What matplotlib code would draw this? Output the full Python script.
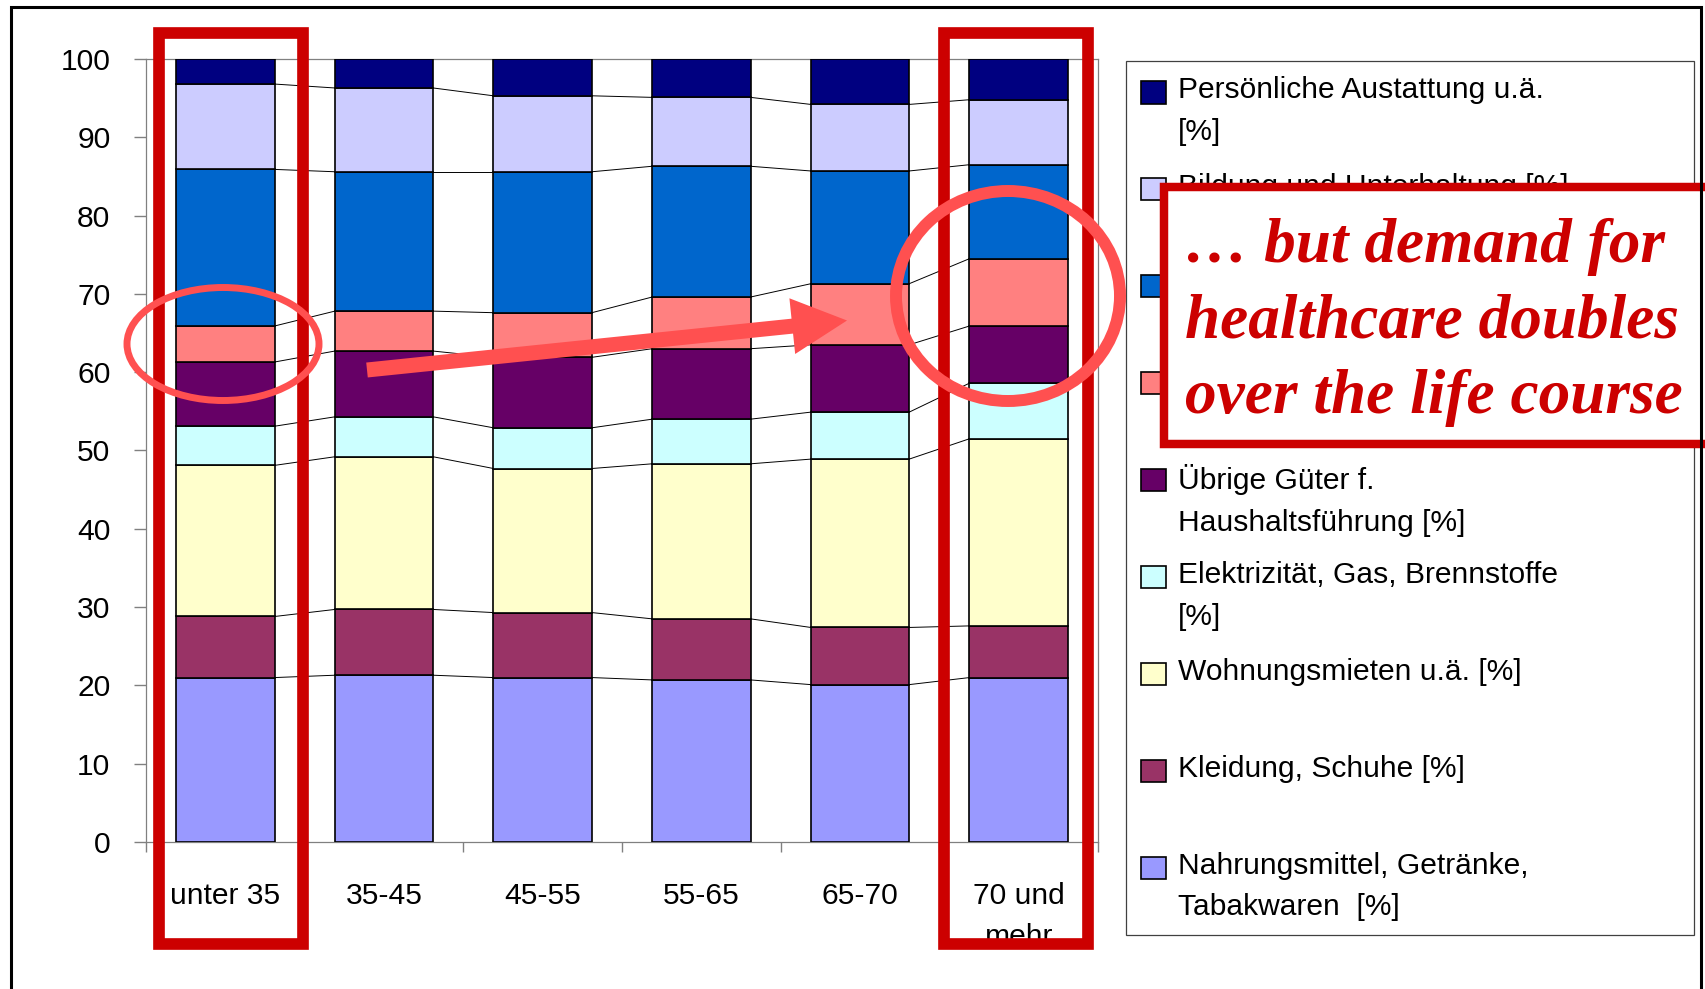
import numpy as np
import matplotlib.pyplot as plt
from matplotlib.patches import Rectangle, Ellipse, FancyArrow

plt.rcParams['font.family'] = ['Liberation Sans', 'DejaVu Sans']

# age groups and spending shares (%), stacked from bottom to top
groups = ["unter 35", "35-45", "45-55", "55-65", "65-70", "70 und\nmehr"]
nahrung = [21.0, 21.3, 21.0, 20.7, 20.1, 21.0]
kleidung = [7.8, 8.4, 8.3, 7.8, 7.3, 6.6]
wohnung = [19.3, 19.5, 18.4, 19.8, 21.5, 23.9]
energie = [5.0, 5.1, 5.2, 5.7, 6.0, 7.1]
haushalt = [8.2, 8.4, 9.0, 9.0, 8.6, 7.3]
gesundheit = [4.6, 5.1, 5.7, 6.6, 7.8, 8.6]
verkehr = [20.0, 17.8, 18.0, 16.7, 14.4, 12.0]
bildung = [10.9, 10.7, 9.7, 8.8, 8.5, 8.3]
persoenlich = [3.2, 3.7, 4.7, 4.9, 5.8, 5.2]

series = [nahrung, kleidung, wohnung, energie, haushalt, gesundheit, verkehr, bildung, persoenlich]
colors = ['#9999FF', '#993366', '#FFFFCC', '#CCFFFF', '#660066', '#FF8080', '#0066CC', '#CCCCFF', '#000080']

# legend, top to bottom (as in the original); two labels are hidden under the callout
legend_labels = ["Persönliche Austattung u.ä.\n[%]",
                 "Bildung und Unterhaltung [%]",
                 "",
                 "",
                 "Übrige Güter f.\nHaushaltsführung [%]",
                 "Elektrizität, Gas, Brennstoffe\n[%]",
                 "Wohnungsmieten u.ä. [%]",
                 "Kleidung, Schuhe [%]",
                 "Nahrungsmittel, Getränke,\nTabakwaren  [%]"]

callout = ["… but demand for", "healthcare doubles", "over the life course"]

W, H = 1706, 989
fig = plt.figure(figsize=(W / 100, H / 100), dpi=100)
ax = fig.add_axes([146 / W, 1 - 842 / H, (1098 - 146) / W, (842 - 59) / H])


def P(x, y):
    # pixel position (from top left) -> inches for dpi_scale_trans
    return (x / 100, (H - y) / 100)


def box(x0, y0, x1, y1, **kw):
    return Rectangle(P(x0, y1), (x1 - x0) / 100, (y1 - y0) / 100,
                     transform=fig.dpi_scale_trans, **kw)


x = np.arange(len(groups))
bw = 0.62
bottom = np.zeros(len(groups))
tops = []
for vals, col in zip(series, colors):
    ax.bar(x, vals, bw, bottom=bottom, color=col, edgecolor='black', linewidth=1.2, zorder=3)
    bottom = bottom + np.array(vals)
    tops.append(bottom.copy())

# series lines between the bars
for level in tops[:-1]:
    for i in range(len(x) - 1):
        ax.plot([x[i] + bw / 2, x[i + 1] - bw / 2], [level[i], level[i + 1]],
                color='black', lw=0.7, zorder=2)

ax.set_xlim(-0.5, len(groups) - 0.5)
ax.set_ylim(0, 100)
ax.set_yticks(range(0, 101, 10))
ax.set_xticks(x)
ax.set_xticklabels(groups, linespacing=1.6)
ax.set_xticks(np.arange(-0.5, len(groups), 1), minor=True)
ax.tick_params(axis='x', which='major', length=0, pad=28.5, labelsize=21.6)
ax.tick_params(axis='x', which='minor', length=7, color='#808080', width=1)
ax.tick_params(axis='y', length=8.6, color='#808080', width=1, pad=17, labelsize=21.6)
for s in ax.spines.values():
    s.set_color('#808080')
    s.set_linewidth(0.9)

# legend drawn by hand: fixed slot per entry
fig.add_artist(box(1126, 61, 1694, 935, facecolor='white', edgecolor='#404040', lw=0.9, zorder=1))
slot0, slot = 92.5, 96.9
for k, (lab, col) in enumerate(zip(legend_labels, colors[::-1])):
    cy = slot0 + k * slot
    fig.add_artist(box(1141, cy - 11, 1166, cy + 11, facecolor=col, edgecolor='black', lw=1.2, zorder=2))
    if lab:
        fig.text(1178 / W, 1 - (cy - 16) / H, lab, fontsize=21.6, va='top', ha='left',
                 linespacing=1.62, zorder=2)

# white cover that clips the second line of the last category label
fig.add_artist(box(930, 950, 1110, 1000, facecolor='white', edgecolor='none', zorder=4))

# red frames around first and last age group
for x0, x1 in [(158.5, 302.8), (943.5, 1087.5)]:
    fig.add_artist(box(x0, 32.5, x1, 944, facecolor='none', edgecolor='#CC0000', lw=8.4, zorder=5))

# highlight ellipses and arrow
fig.add_artist(Ellipse(P(223, 344), 1.92, 1.13, transform=fig.dpi_scale_trans,
                       facecolor='none', edgecolor='#FF5050', lw=5, zorder=6))
fig.add_artist(Ellipse(P(1008, 296), 2.24, 2.10, transform=fig.dpi_scale_trans,
                       facecolor='none', edgecolor='#FF5050', lw=8.6, zorder=6))
tx, ty = P(367, 370)
hx, hy = P(847, 320.5)
fig.add_artist(FancyArrow(tx, ty, hx - tx, hy - ty, width=0.15, head_width=0.56, head_length=0.55,
                          length_includes_head=True, transform=fig.dpi_scale_trans,
                          color='#FF5050', lw=0, zorder=6))

# callout box
fig.add_artist(box(1164, 187.5, 1730, 444, facecolor='white', edgecolor='#CC0000', lw=6.1, zorder=7))
for k, line in enumerate(callout):
    fig.text(1185 / W, 1 - (262 + k * 75.5) / H, line, fontsize=45.5, family='Liberation Serif',
             fontweight='bold', fontstyle='italic', color='#CC0000', va='baseline', ha='left', zorder=8)

# outer chart frame
fig.add_artist(box(11, 7, 1701, 1010, facecolor='none', edgecolor='black', lw=2.2, zorder=9))

fig.savefig('out.png', dpi=100)
